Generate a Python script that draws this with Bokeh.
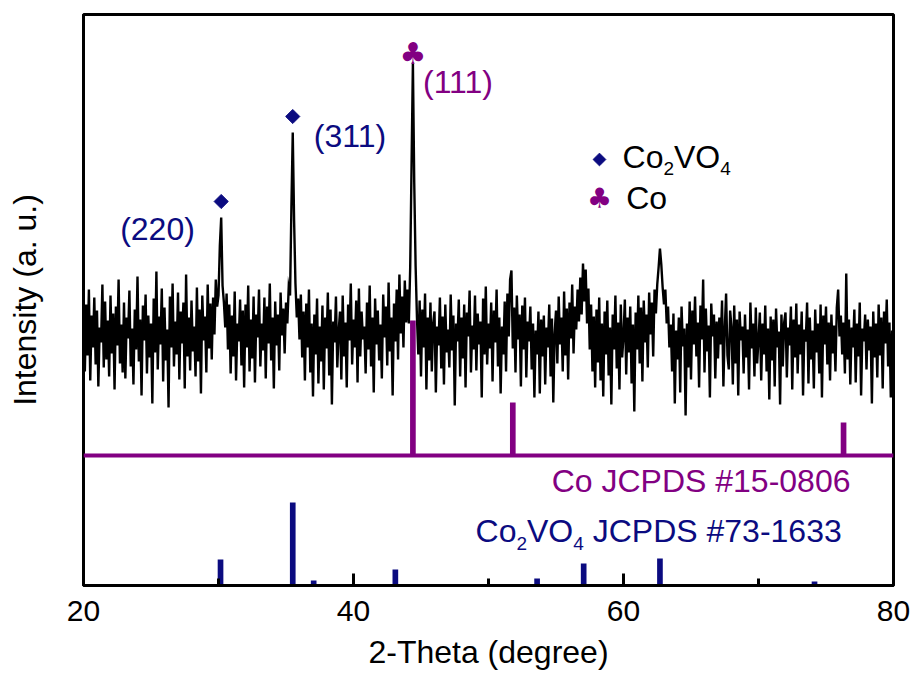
import numpy as np
from bokeh.plotting import figure
from bokeh.models import FixedTicker, Range1d, Span
from bokeh.core.properties import value
from bokeh.embed import file_html
from bokeh.resources import INLINE

# ---------------- data ----------------
theta_start = 20.0
theta_step = 0.1
intensity = [
    262,214,281,230,296,205,270,238,288,221,
    275,199,258,243,301,218,284,226,265,209,
    290,232,272,196,279,240,306,222,261,213,
    283,207,268,247,295,219,257,201,276,236,
    309,224,266,190,280,245,291,212,270,228,
    262,182,287,233,314,216,269,241,297,204,
    278,225,256,178,289,238,302,219,264,231,
    293,206,274,242,283,197,311,229,268,215,
    285,234,259,209,298,224,276,192,290,245,
    269,213,301,237,282,226,288,251,306,279,
    290,340,368,300,283,258,292,236,281,212,
    270,229,294,205,262,244,286,220,275,198,
    281,238,300,214,266,227,289,203,271,248,
    296,219,262,235,288,207,279,242,302,225,
    268,197,284,240,271,215,293,250,277,232,
    283,262,298,290,378,453,365,302,268,287,
    246,291,228,274,205,282,238,296,213,262,
    189,271,231,287,202,259,224,280,196,268,
    237,293,210,276,181,264,243,289,218,254,
    274,206,290,229,263,198,281,245,302,221,
    266,238,285,203,297,229,274,246,259,212,
    283,236,300,219,268,193,287,241,275,225,
    261,207,291,248,279,220,303,234,268,190,
    282,244,296,226,311,252,289,238,305,263,
    296,262,318,420,523,402,320,268,231,285,
    209,276,238,292,196,268,225,283,214,262,
    274,193,259,240,288,217,269,201,281,233,
    256,218,291,235,270,180,262,244,286,209,
    268,227,281,198,273,249,295,213,260,236,
    290,215,272,241,264,188,287,231,299,221,
    262,237,283,204,275,243,296,219,268,192,
    259,231,284,214,292,249,306,315,237,278,
    213,290,246,271,199,280,236,288,208,264,
    244,279,216,262,188,255,231,274,192,266,
    229,270,201,258,238,281,209,267,183,252,
    275,222,289,241,268,214,294,230,277,206,
    283,247,301,232,279,256,296,264,308,271,
    322,284,316,262,297,236,281,214,269,198,
    276,223,288,205,262,189,274,231,285,210,
    258,181,271,236,290,217,263,196,281,228,
    249,286,211,268,233,279,202,261,174,273,
    236,290,222,278,204,285,243,271,218,293,
    251,283,229,296,272,301,318,337,321,298,
    281,296,262,279,238,261,214,272,182,255,
    226,268,193,279,239,257,170,262,218,284,
    206,275,241,289,229,263,198,280,246,306,
    213,277,234,260,188,282,249,271,207,264,
    227,268,241,285,199,256,292,230,216,275,
    258,201,280,222,266,190,274,245,259,212,
    271,228,256,196,283,237,262,209,278,222,
    246,273,205,262,231,280,214,257,186,269,
    225,266,199,277,238,254,181,271,219,263,
    273,208,258,240,279,196,266,228,282,212,
    261,231,274,190,256,244,283,202,268,226,
    255,197,276,233,262,212,281,188,270,241,
    279,221,263,205,271,232,260,214,278,296,
    249,270,231,263,212,312,226,266,201,258,
    238,276,203,262,229,283,190,257,244,271,
    216,266,235,259,182,274,228,262,208,281,
    230,268,197,274,242,286,219,263,188,255,
    241,
]

# Co reference (JCPDS #15-0806), drawn above its own baseline
co_baseline = 130
co_pos = [44.4, 51.8, 76.3]
co_height = [135, 53, 33]

# Co2VO4 reference (JCPDS #73-1633)
cvo_pos = [30.15, 35.5, 37.05, 43.1, 47.3, 53.6, 57.05, 62.7, 65.8, 71.1, 74.15, 75.2, 79.1]
cvo_height = [26, 83, 5, 16, 1.5, 7, 22, 27, 1.5, 1.5, 4, 1.5, 1.5]

# indexed peaks of the sample
cvo_peak_x = [30.2, 35.5]
cvo_peak_y = [368, 453]
cvo_peak_hkl = ["(220)", "(311)"]
co_peak_x = [44.4]
co_peak_y = [523]
co_peak_hkl = ["(111)"]

x_ticks = [20, 40, 60, 80]
x_minor = [30, 50, 70]

NAVY = "#0b0b80"
PURPLE = "#820082"
FONT = "Liberation Sans"

theta = np.round(theta_start + theta_step * np.arange(len(intensity)), 2)

# ---------------- figure ----------------
p = figure(width=914, height=675, x_range=Range1d(20, 80), y_range=Range1d(0, 571),
           output_backend="svg", toolbar_location=None,
           min_border_left=83, min_border_right=21, min_border_top=14, min_border_bottom=90)
p.xgrid.visible = False
p.ygrid.visible = False
p.outline_line_color = "black"
p.outline_line_width = 3
p.background_fill_color = "white"
p.border_fill_color = "white"

xa = p.xaxis[0]
xa.ticker = FixedTicker(ticks=x_ticks, minor_ticks=x_minor)
xa.major_tick_in = 12
xa.major_tick_out = 0
xa.minor_tick_in = 7
xa.minor_tick_out = 0
xa.major_tick_line_width = 3
xa.minor_tick_line_width = 3
xa.axis_line_width = 3
xa.major_label_text_font = FONT
xa.major_label_text_font_size = "30px"
xa.major_label_text_color = "black"
xa.major_label_standoff = 15
xa.axis_label = "2-Theta (degree)"
xa.axis_label_text_font = FONT
xa.axis_label_text_font_size = "32px"
xa.axis_label_text_font_style = "normal"
xa.axis_label_text_color = "black"
xa.axis_label_standoff = 10

ya = p.yaxis[0]
ya.ticker = FixedTicker(ticks=[])
ya.major_tick_in = 0
ya.major_tick_out = 0
ya.minor_tick_in = 0
ya.minor_tick_out = 0
ya.axis_line_width = 3
ya.axis_label = "Intensity (a. u.)"
ya.axis_label_text_font = FONT
ya.axis_label_text_font_size = "32px"
ya.axis_label_text_font_style = "normal"
ya.axis_label_text_color = "black"
ya.axis_label_standoff = 41

# measured pattern
p.line(theta, intensity, line_color="black", line_width=2.4, line_join="miter")

# Co reference bars + baseline
p.add_layout(Span(location=co_baseline, dimension="width", line_color=PURPLE, line_width=4))
p.vbar(x=co_pos, bottom=co_baseline, top=[co_baseline + h for h in co_height],
       width=0.42, fill_color=PURPLE, line_color=None)

# Co2VO4 reference bars
p.vbar(x=cvo_pos, bottom=0, top=cvo_height, width=0.42, fill_color=NAVY, line_color=None)

# peak markers
p.scatter(x=cvo_peak_x, y=[v + 16 for v in cvo_peak_y], marker="square", angle=np.pi / 4,
          size=10, fill_color=NAVY, line_color=NAVY)
p.text(x=co_peak_x, y=[v + 9 for v in co_peak_y], text=["\u2663"], text_font=value("DejaVu Sans"),
       text_font_size="30px", text_color=PURPLE, text_align="center", text_baseline="middle")

# hkl labels
p.text(x=[25.48, 39.74], y=[357, 450], text=cvo_peak_hkl, text_font=value(FONT),
       text_font_size="32px", text_color=NAVY, text_align="center", text_baseline="alphabetic")
p.text(x=[47.74], y=[504], text=co_peak_hkl, text_font=value(FONT),
       text_font_size="32px", text_color=PURPLE, text_align="center", text_baseline="alphabetic")

# ---------- helper for text with subscripts ----------
AW = {'C': .722, 'o': .556, 'V': .667, 'O': .778, ' ': .278, 'J': .5, 'P': .667, 'D': .722,
      'S': .667, '#': .556, '-': .333}
for d in "0123456789":
    AW[d] = .556


def runs_text(x, y, runs, right=False):
    widths = [sum(AW[c] for c in t) * s for t, s, dy, col in runs]
    off = -sum(widths) if right else 0.0
    for (t, s, dy, col), w in zip(runs, widths):
        lead = len(t) - len(t.lstrip(" "))
        tt = t.strip(" ")
        p.text(x=[x], y=[y], text=[tt], x_offset=off + lead * AW[' '] * s, y_offset=dy,
               text_font=value(FONT), text_font_size=f"{s}px", text_color=col,
               text_align="left", text_baseline="alphabetic")
        off += w


# legend
p.scatter(x=[58.22], y=[426], marker="square", angle=np.pi / 4, size=9,
          fill_color=NAVY, line_color=NAVY)
p.text(x=[58.22], y=[387], text=["\u2663"], text_font=value("DejaVu Sans"),
       text_font_size="28px", text_color=PURPLE, text_align="center", text_baseline="middle")
runs_text(59.93, 429, [("Co", 32, 0, "black"), ("2", 19, 12, "black"),
                       ("VO", 32, 0, "black"), ("4", 19, 12, "black")])
runs_text(60.2, 388, [("Co", 32, 0, "black")])

# reference card labels
runs_text(76.81, 105, [("Co JCPDS #15-0806", 32, 0, PURPLE)], right=True)
runs_text(49.04, 55, [("Co", 32, 0, NAVY), ("2", 19, 13, NAVY), ("VO", 32, 0, NAVY),
                      ("4", 19, 13, NAVY), (" JCPDS #73-1633", 32, 0, NAVY)])

open("out.html", "w").write(file_html(p, INLINE))
